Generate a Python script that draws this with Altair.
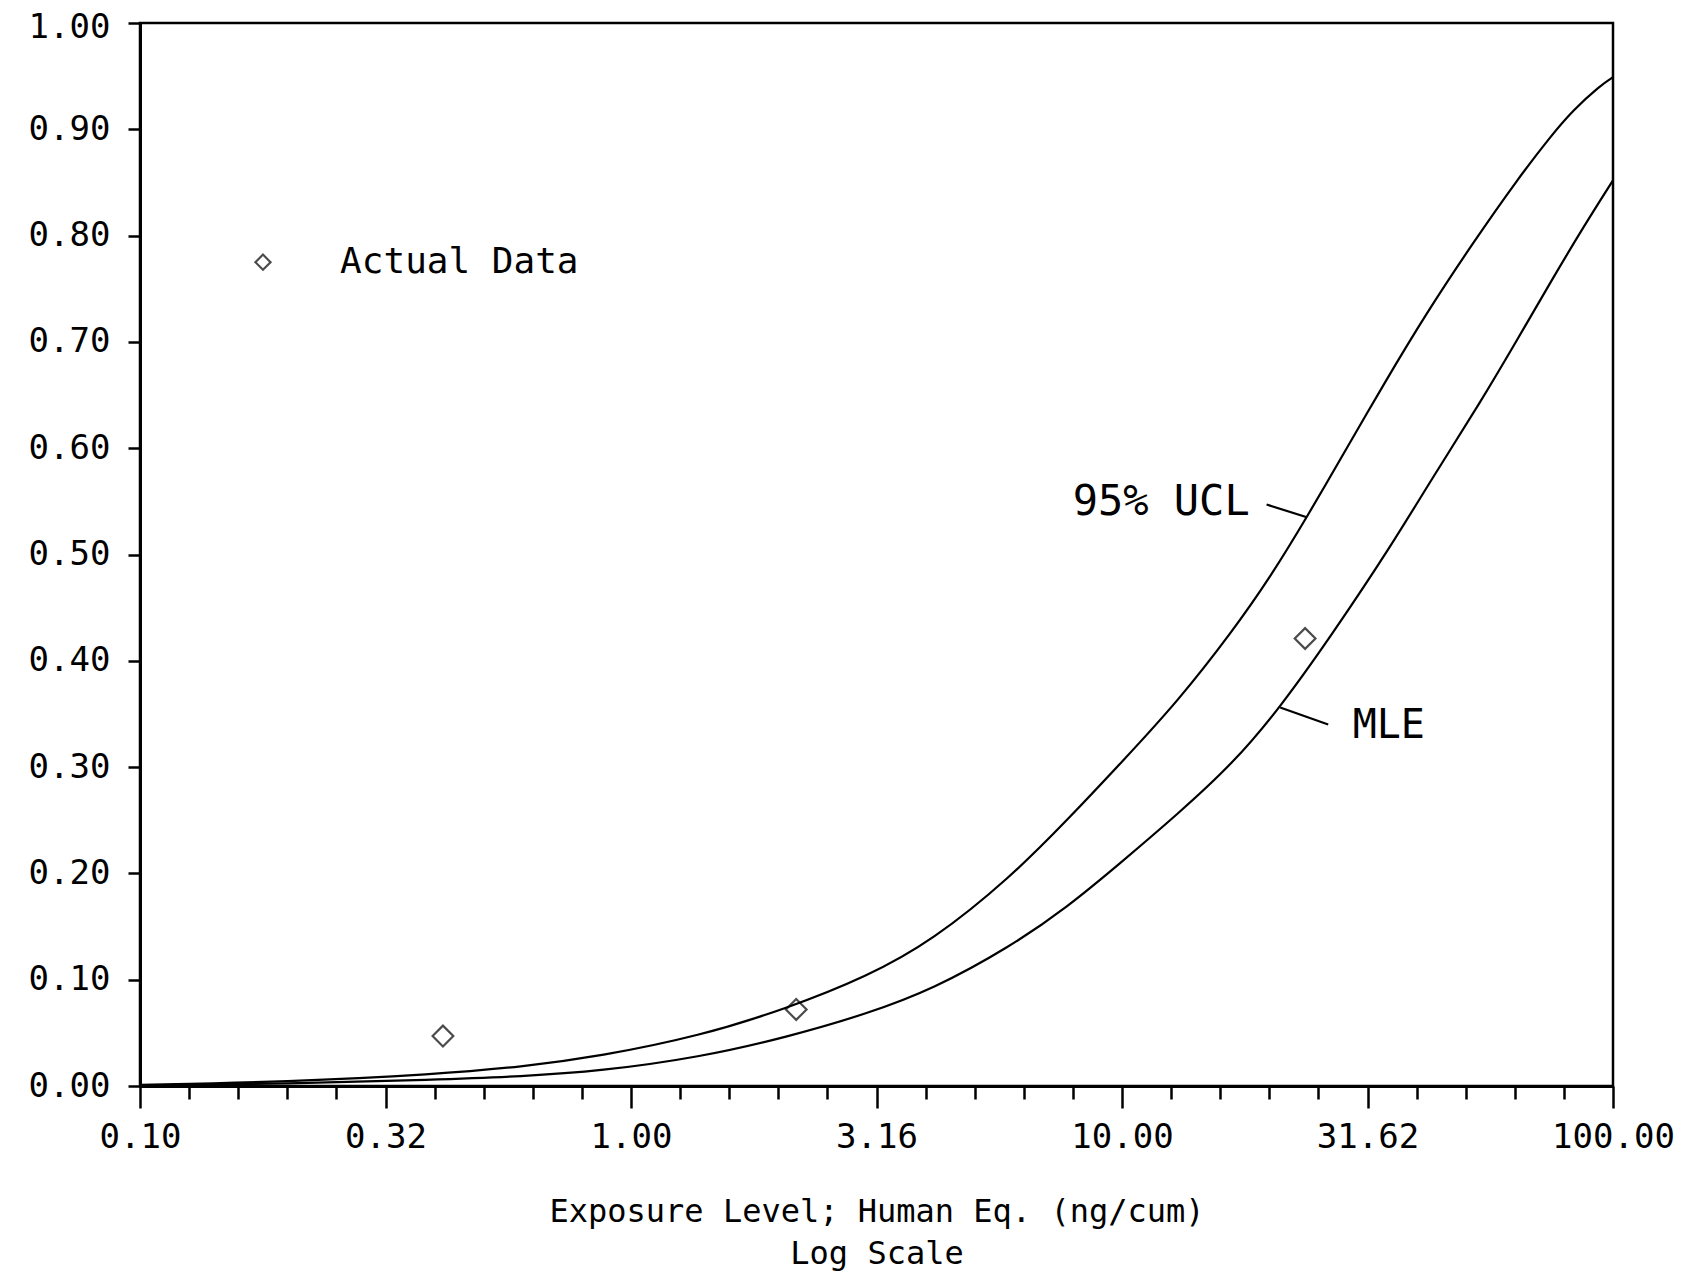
import altair as alt
import pandas as pd

# ---- data ----
ucl_x = [0.1, 0.2, 0.4, 0.6, 0.865, 1.38, 2.08, 3.03, 4.12, 5.92, 7.73, 10.0, 13.0, 16.8, 20.0, 23.8, 29.1, 34.0, 41.8, 52.0, 63.7, 74.5, 82.9, 94.1, 100.0]
ucl_y = [0.001, 0.004, 0.011, 0.018, 0.028, 0.047, 0.073, 0.103, 0.137, 0.196, 0.250, 0.305, 0.362, 0.428, 0.478, 0.535, 0.605, 0.659, 0.728, 0.794, 0.852, 0.893, 0.918, 0.941, 0.949]

mle_x = [0.1, 0.2, 0.4, 0.6, 0.865, 1.38, 2.08, 3.03, 4.12, 5.92, 7.73, 10.0, 13.0, 16.8, 21.0, 26.9, 35.1, 43.0, 54.0, 64.0, 75.0, 87.0, 100.0]
mle_y = [0.0005, 0.002, 0.006, 0.009, 0.014, 0.027, 0.046, 0.068, 0.091, 0.131, 0.168, 0.211, 0.256, 0.303, 0.356, 0.426, 0.506, 0.573, 0.645, 0.703, 0.758, 0.808, 0.852]

obs_x = [0.414, 2.17, 23.6]
obs_y = [0.047, 0.072, 0.421]

x_ticks = [round(10 ** (k / 10), 6) for k in range(-10, 21)]
y_ticks = [round(i / 10, 2) for i in range(0, 11)]

labels_text = ["95% UCL", "MLE", "Actual Data"]
labels_x = [18.2, 29.5, 0.2556]
labels_y = [0.549, 0.339, 0.775]
labels_align = ["right", "left", "left"]
labels_size = [42, 40, 36]

leader_x = [19.7, 26.3]
leader_x2 = [23.8, 21.0]
leader_y = [0.547, 0.340]
leader_y2 = [0.535, 0.356]

legend_x = [0.178]
legend_y = [0.775]

x_title = ["Exposure Level; Human Eq. (ng/cum)", "Log Scale"]

FONT = "DejaVu Sans Mono"

curves = pd.concat([
    pd.DataFrame({"x": ucl_x, "y": ucl_y, "series": "UCL"}),
    pd.DataFrame({"x": mle_x, "y": mle_y, "series": "MLE"}),
])
obs = pd.DataFrame({"x": obs_x, "y": obs_y})
texts = pd.DataFrame({"x": labels_x, "y": labels_y, "t": labels_text, "a": labels_align, "s": labels_size})
leaders = pd.DataFrame({"x": leader_x, "x2": leader_x2, "y": leader_y, "y2": leader_y2})
legend = pd.DataFrame({"x": legend_x, "y": legend_y})

half_decade = "abs(log(datum.value)/LN10*2 - round(log(datum.value)/LN10*2)) < 0.01"

xscale = alt.Scale(type="log", domain=[0.1, 100], nice=False)
yscale = alt.Scale(domain=[0, 1], nice=False, zero=False)

xaxis = alt.Axis(
    values=x_ticks,
    title=x_title,
    labelExpr=f"({half_decade}) ? format(datum.value, '.2f') : ''",
    tickSize={"condition": {"test": half_decade, "value": 22}, "value": 13},
    labelPadding=12,
    labelFontSize=34,
    labelFont=FONT,
    labelFlush=False,
    labelOverlap=False,
    titleFont=FONT,
    titleFontSize=32,
    titleFontWeight="normal",
    titleLineHeight=42,
    titlePadding=42,
    grid=False,
)
yaxis = alt.Axis(
    values=y_ticks,
    format=".2f",
    title=None,
    tickSize=12,
    labelPadding=18,
    labelFontSize=34,
    labelFont=FONT,
    labelOffset={"condition": {"test": "datum.value >= 0.999", "value": 4}, "value": 0},
    grid=False,
)

base_x = alt.X("x:Q", scale=xscale, axis=xaxis)
base_y = alt.Y("y:Q", scale=yscale, axis=yaxis)

lines = alt.Chart(curves).mark_line(color="black", strokeWidth=2.2, interpolate="basis").encode(
    x=base_x, y=base_y, detail="series:N"
)
points = alt.Chart(obs).mark_point(shape="diamond", size=430, filled=False, color="black", strokeWidth=2.2).encode(
    x="x:Q", y="y:Q"
)
legend_pt = alt.Chart(legend).mark_point(shape="diamond", size=230, filled=False, color="black", strokeWidth=2.2).encode(
    x="x:Q", y="y:Q"
)
text_l = alt.Chart(texts[texts.a == "left"]).mark_text(align="left", baseline="middle", font=FONT, color="black").encode(
    x="x:Q", y="y:Q", text="t:N", size=alt.Size("s:Q", scale=None)
)
text_r = alt.Chart(texts[texts.a == "right"]).mark_text(align="right", baseline="middle", font=FONT, color="black").encode(
    x="x:Q", y="y:Q", text="t:N", size=alt.Size("s:Q", scale=None)
)
rules = alt.Chart(leaders).mark_rule(color="black", strokeWidth=2.2).encode(
    x="x:Q", x2="x2:Q", y="y:Q", y2="y2:Q"
)

chart = alt.layer(lines, points, legend_pt, rules, text_l, text_r).properties(
    width=1473,
    height=1063,
    background="white",
    autosize=alt.AutoSizeParams(type="none"),
    padding={"left": 132, "top": 15, "right": 66, "bottom": 186},
).configure_view(
    stroke="black", strokeWidth=2.5
).configure_axis(
    labelFont=FONT,
    titleFont=FONT,
    labelColor="black",
    titleColor="black",
    domainColor="black",
    domainWidth=3,
    tickColor="black",
    tickWidth=2.5,
)

chart.save("out.html", embed_options={"renderer": "svg", "actions": False})
